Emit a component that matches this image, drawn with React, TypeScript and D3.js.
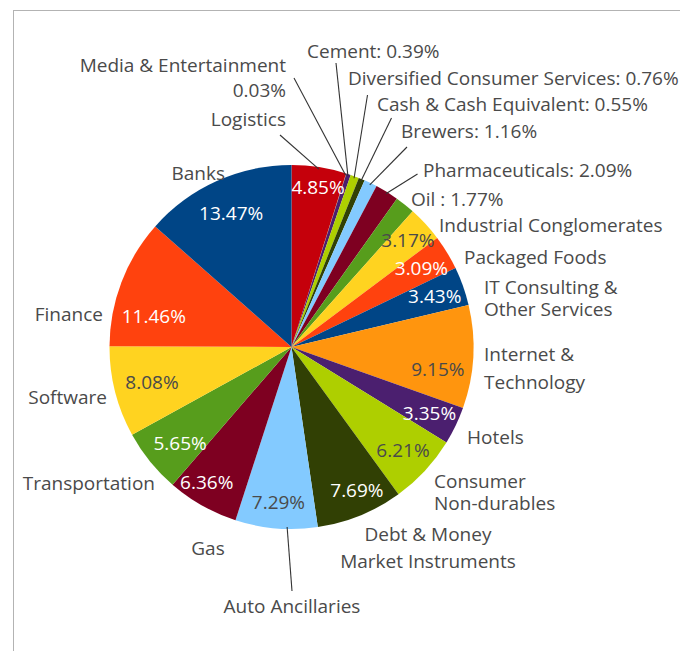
import React from "react";
import * as d3 from "d3";

// slices, clockwise from 12 o'clock
const categories = [
  "Logistics",
  "Media & Entertainment",
  "Cement",
  "Diversified Consumer Services",
  "Cash & Cash Equivalent",
  "Brewers",
  "Pharmaceuticals",
  "Oil",
  "Industrial Conglomerates",
  "Packaged Foods",
  "IT Consulting & Other Services",
  "Internet & Technology",
  "Hotels",
  "Consumer Non-durables",
  "Debt & Money Market Instruments",
  "Auto Ancillaries",
  "Gas",
  "Transportation",
  "Software",
  "Finance",
  "Banks",
];
const shares = [
  4.85, 0.03, 0.39, 0.76, 0.55, 1.16, 2.09, 1.77, 3.17, 3.09, 3.43, 9.15, 3.35,
  6.21, 7.69, 7.29, 6.36, 5.65, 8.08, 11.46, 13.47,
];
const sliceColors = [
  "#c5000b", "#ff950e", "#4b1f6f", "#aecf00", "#314004", "#83caff", "#7e0021",
  "#579d1c", "#ffd320", "#ff420e", "#004586", "#ff950e", "#4b1f6f", "#aecf00",
  "#314004", "#83caff", "#7e0021", "#579d1c", "#ffd320", "#ff420e", "#004586",
];
// light slices get dark percentage text
const darkText = ["Industrial Conglomerates", "Internet & Technology", "Consumer Non-durables", "Auto Ancillaries", "Software"];

// wrapped names
const nameLines: Record<string, string[]> = {
  "IT Consulting & Other Services": ["IT Consulting &", "Other Services"],
  "Internet & Technology": ["Internet &", "Technology"],
  "Consumer Non-durables": ["Consumer", "Non-durables"],
  "Debt & Money Market Instruments": ["Debt & Money", "Market Instruments"],
};

const fmt = (v: number) => `${v.toFixed(2)}%`;

// outside label layout, relative to the pie centre
type Layout = {
  dx: number;
  dy: number;
  anchor: "start" | "middle" | "end";
  gap?: number;
  mode: "name" | "nameValue" | "stacked";
  sep?: string;
  line?: [number, number];
  lineAt?: number;
  nudge?: [number, number]; // inner label [angle shift deg, radius]
};
const layout: Record<string, Layout> = {
  Logistics: { dx: -5.5, dy: -228, anchor: "end", mode: "name", line: [-11.5, -212], nudge: [0.7, 162] },
  "Media & Entertainment": { dx: -5.5, dy: -282, anchor: "end", mode: "stacked", gap: 25, line: [2.5, -269] },
  Cement: { dx: 15.5, dy: -296, anchor: "start", mode: "nameValue", sep: ": ", line: [44.5, -284] },
  "Diversified Consumer Services": { dx: 56.5, dy: -269, anchor: "start", mode: "nameValue", sep: ": ", line: [76, -252] },
  "Cash & Cash Equivalent": { dx: 85.5, dy: -243, anchor: "start", mode: "nameValue", sep: ": ", line: [100, -229] },
  Brewers: { dx: 109.5, dy: -216, anchor: "start", mode: "nameValue", sep: ": ", line: [115.5, -200] },
  Pharmaceuticals: { dx: 131.5, dy: -177, anchor: "start", mode: "nameValue", sep: ": ", line: [126, -173] },
  Oil: { dx: 119.5, dy: -148, anchor: "start", mode: "nameValue", sep: " : " },
  "Industrial Conglomerates": { dx: 147.5, dy: -122, anchor: "start", mode: "name", nudge: [0, 158] },
  "Packaged Foods": { dx: 172.5, dy: -90, anchor: "start", mode: "name", nudge: [0, 152] },
  "IT Consulting & Other Services": { dx: 192.5, dy: -60, anchor: "start", mode: "name", gap: 22, nudge: [0, 152] },
  "Internet & Technology": { dx: 192.5, dy: 7, anchor: "start", mode: "name", gap: 28, nudge: [5.4, 148] },
  Hotels: { dx: 175.5, dy: 90, anchor: "start", mode: "name", nudge: [0, 153] },
  "Consumer Non-durables": { dx: 142.5, dy: 134, anchor: "start", mode: "name", gap: 22, nudge: [0, 152] },
  "Debt & Money Market Instruments": { dx: 136.5, dy: 187, anchor: "middle", mode: "name", gap: 27, nudge: [-2.3, 158] },
  "Auto Ancillaries": { dx: 0.5, dy: 259, anchor: "middle", mode: "name", line: [0.5, 244], lineAt: 0.37, nudge: [0, 156] },
  Gas: { dx: -83.5, dy: 201, anchor: "middle", mode: "name", nudge: [2.6, 160] },
  Transportation: { dx: -136.5, dy: 136, anchor: "end", mode: "name", nudge: [-1.7, 147] },
  Software: { dx: -184.5, dy: 50, anchor: "end", mode: "name", nudge: [0, 144] },
  Finance: { dx: -188.5, dy: -33, anchor: "end", mode: "name", nudge: [-8.5, 141] },
  Banks: { dx: -66.5, dy: -174, anchor: "end", mode: "name", nudge: [0, 147] },
};

const W = 680;
const H = 651;
const cx = 291.5;
const cy = 347;
const R = 182;
const FONT = "'Open Sans', 'Noto Sans', sans-serif";
const TEXT = "#4a4a4a";

const polar = (a: number, r: number): [number, number] => [cx + r * Math.sin(a), cy - r * Math.cos(a)];

const App = () => {
  const pie = d3
    .pie<number>()
    .value((d) => d)
    .sort(null)
    .startAngle(0)
    .endAngle(2 * Math.PI);
  const arcs = pie(shares);
  const arc = d3.arc<d3.PieArcDatum<number>>().innerRadius(0).outerRadius(R);

  return (
    <svg width={W} height={H} style={{ position: "absolute", left: 0, top: 0 }} fontFamily={FONT} fontSize={19}>
      <rect x={0} y={0} width={W} height={H} fill="#fff" />
      <rect x={13.5} y={10.5} width={900} height={900} fill="none" stroke="#b3b3b3" strokeWidth={1} />
      <g transform={`translate(${cx},${cy})`}>
        {arcs.map((a, i) => (
          <path key={categories[i]} d={arc(a) || ""} fill={sliceColors[i]} />
        ))}
      </g>
      {arcs.map((a, i) => {
        const name = categories[i];
        const lay = layout[name];
        const mid = (a.startAngle + a.endAngle) / 2;
        const els: React.ReactNode[] = [];
        // leader line
        if (lay.line) {
          const at = lay.lineAt ?? 0.5;
          const ang = a.startAngle + (a.endAngle - a.startAngle) * at;
          const [ex, ey] = polar(ang, R - 2);
          els.push(
            <line key="ln" x1={cx + lay.line[0]} y1={cy + lay.line[1]} x2={ex} y2={ey} stroke="#333" strokeWidth={1.1} />
          );
        }
        // outside text
        let lines: string[];
        if (lay.mode === "nameValue") lines = [`${name}${lay.sep}${fmt(shares[i])}`];
        else if (lay.mode === "stacked") lines = [name, fmt(shares[i])];
        else lines = nameLines[name] || [name];
        const gap = lay.gap ?? 24;
        lines.forEach((t, k) => {
          els.push(
            <text key={"t" + k} x={cx + lay.dx} y={cy + lay.dy + k * gap} dy="0.35em" textAnchor={lay.anchor} fill={TEXT}>
              {t}
            </text>
          );
        });
        // inside percentage
        if (lay.nudge) {
          const [shift, r] = lay.nudge;
          const [px, py] = polar(mid + (shift * Math.PI) / 180, r);
          els.push(
            <text key="in" x={px} y={py} dy="0.35em" textAnchor="middle" fill={darkText.includes(name) ? TEXT : "#ffffff"}>
              {fmt(shares[i])}
            </text>
          );
        }
        return <g key={name}>{els}</g>;
      })}
    </svg>
  );
};

export default App;
